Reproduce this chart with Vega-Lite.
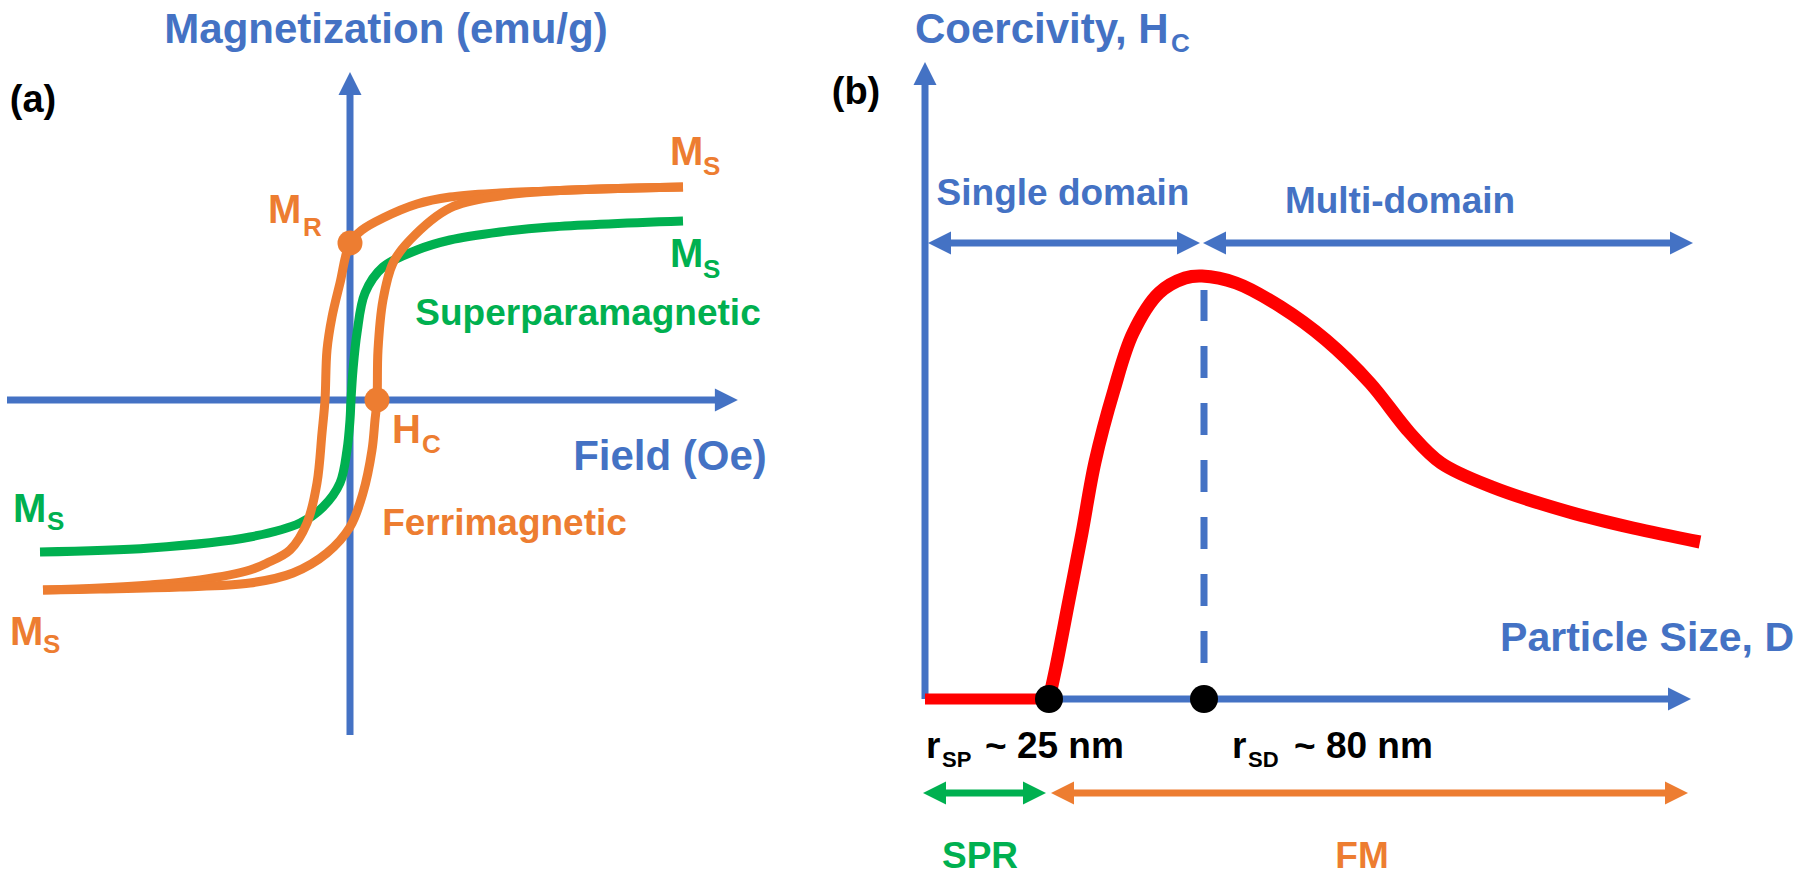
{
  "$schema": "https://vega.github.io/schema/vega-lite/v6.json",
  "padding": 0,
  "spacing": 0,
  "background": "white",
  "config": {
    "view": {"stroke": null},
    "text": {"font": "Liberation Sans", "fontWeight": "bold", "baseline": "alphabetic"}
  },
  "datasets": {
    "loop": [
      {"curve": "ferri-desc", "pal": "orange", "i": 0, "H": 832.5, "M": 1.065},
      {"curve": "ferri-desc", "pal": "orange", "i": 1, "H": 625, "M": 1.055},
      {"curve": "ferri-desc", "pal": "orange", "i": 2, "H": 500, "M": 1.045},
      {"curve": "ferri-desc", "pal": "orange", "i": 3, "H": 375, "M": 1.035},
      {"curve": "ferri-desc", "pal": "orange", "i": 4, "H": 250, "M": 1.015},
      {"curve": "ferri-desc", "pal": "orange", "i": 5, "H": 167.5, "M": 0.98},
      {"curve": "ferri-desc", "pal": "orange", "i": 6, "H": 82.5, "M": 0.91},
      {"curve": "ferri-desc", "pal": "orange", "i": 7, "H": 30, "M": 0.85},
      {"curve": "ferri-desc", "pal": "orange", "i": 8, "H": 0, "M": 0.785},
      {"curve": "ferri-desc", "pal": "orange", "i": 9, "H": -25, "M": 0.585},
      {"curve": "ferri-desc", "pal": "orange", "i": 10, "H": -45, "M": 0.415},
      {"curve": "ferri-desc", "pal": "orange", "i": 11, "H": -57.5, "M": 0.25},
      {"curve": "ferri-desc", "pal": "orange", "i": 12, "H": -62.5, "M": 0},
      {"curve": "ferri-desc", "pal": "orange", "i": 13, "H": -70, "M": -0.165},
      {"curve": "ferri-desc", "pal": "orange", "i": 14, "H": -82.5, "M": -0.415},
      {"curve": "ferri-desc", "pal": "orange", "i": 15, "H": -107.5, "M": -0.615},
      {"curve": "ferri-desc", "pal": "orange", "i": 16, "H": -150, "M": -0.75},
      {"curve": "ferri-desc", "pal": "orange", "i": 17, "H": -207.5, "M": -0.815},
      {"curve": "ferri-desc", "pal": "orange", "i": 18, "H": -250, "M": -0.85},
      {"curve": "ferri-desc", "pal": "orange", "i": 19, "H": -375, "M": -0.9},
      {"curve": "ferri-desc", "pal": "orange", "i": 20, "H": -500, "M": -0.925},
      {"curve": "ferri-desc", "pal": "orange", "i": 21, "H": -625, "M": -0.94},
      {"curve": "ferri-desc", "pal": "orange", "i": 22, "H": -767.5, "M": -0.95},
      {"curve": "ferri-asc", "pal": "orange", "i": 0, "H": -767.5, "M": -0.95},
      {"curve": "ferri-asc", "pal": "orange", "i": 1, "H": -625, "M": -0.945},
      {"curve": "ferri-asc", "pal": "orange", "i": 2, "H": -425, "M": -0.935},
      {"curve": "ferri-asc", "pal": "orange", "i": 3, "H": -250, "M": -0.915},
      {"curve": "ferri-asc", "pal": "orange", "i": 4, "H": -142.5, "M": -0.865},
      {"curve": "ferri-asc", "pal": "orange", "i": 5, "H": -57.5, "M": -0.765},
      {"curve": "ferri-asc", "pal": "orange", "i": 6, "H": 0, "M": -0.635},
      {"curve": "ferri-asc", "pal": "orange", "i": 7, "H": 32.5, "M": -0.465},
      {"curve": "ferri-asc", "pal": "orange", "i": 8, "H": 55, "M": -0.25},
      {"curve": "ferri-asc", "pal": "orange", "i": 9, "H": 62.5, "M": -0.1},
      {"curve": "ferri-asc", "pal": "orange", "i": 10, "H": 67.5, "M": 0},
      {"curve": "ferri-asc", "pal": "orange", "i": 11, "H": 70, "M": 0.25},
      {"curve": "ferri-asc", "pal": "orange", "i": 12, "H": 82.5, "M": 0.5},
      {"curve": "ferri-asc", "pal": "orange", "i": 13, "H": 107.5, "M": 0.685},
      {"curve": "ferri-asc", "pal": "orange", "i": 14, "H": 150, "M": 0.8},
      {"curve": "ferri-asc", "pal": "orange", "i": 15, "H": 250, "M": 0.96},
      {"curve": "ferri-asc", "pal": "orange", "i": 16, "H": 375, "M": 1.02},
      {"curve": "ferri-asc", "pal": "orange", "i": 17, "H": 500, "M": 1.045},
      {"curve": "ferri-asc", "pal": "orange", "i": 18, "H": 832.5, "M": 1.065},
      {"curve": "spm", "pal": "green", "i": 0, "H": -775, "M": -0.76},
      {"curve": "spm", "pal": "green", "i": 1, "H": -500, "M": -0.74},
      {"curve": "spm", "pal": "green", "i": 2, "H": -250, "M": -0.685},
      {"curve": "spm", "pal": "green", "i": 3, "H": -125, "M": -0.615},
      {"curve": "spm", "pal": "green", "i": 4, "H": -67.5, "M": -0.535},
      {"curve": "spm", "pal": "green", "i": 5, "H": -25, "M": -0.415},
      {"curve": "spm", "pal": "green", "i": 6, "H": -7.5, "M": -0.25},
      {"curve": "spm", "pal": "green", "i": 7, "H": 0, "M": -0.1},
      {"curve": "spm", "pal": "green", "i": 8, "H": 2.5, "M": 0},
      {"curve": "spm", "pal": "green", "i": 9, "H": 7.5, "M": 0.15},
      {"curve": "spm", "pal": "green", "i": 10, "H": 17.5, "M": 0.335},
      {"curve": "spm", "pal": "green", "i": 11, "H": 37.5, "M": 0.535},
      {"curve": "spm", "pal": "green", "i": 12, "H": 82.5, "M": 0.665},
      {"curve": "spm", "pal": "green", "i": 13, "H": 167.5, "M": 0.75},
      {"curve": "spm", "pal": "green", "i": 14, "H": 250, "M": 0.8},
      {"curve": "spm", "pal": "green", "i": 15, "H": 375, "M": 0.84},
      {"curve": "spm", "pal": "green", "i": 16, "H": 500, "M": 0.865},
      {"curve": "spm", "pal": "green", "i": 17, "H": 832.5, "M": 0.895}
    ],
    "axesA": [
      {"H": 0, "M": -1.675, "H2": 0, "M2": 1.56, "pal": "blue"},
      {"H": -857.5, "M": 0, "H2": 935, "M2": 0, "pal": "blue"}
    ],
    "headsA": [
      {"H": 0, "M": 1.5825, "dir": "up", "pal": "blue"},
      {"H": 941, "M": 0, "dir": "right", "pal": "blue"}
    ],
    "dotsA": [
      {"H": 0, "M": 0.785, "point": "M_R", "pal": "orange"},
      {"H": 67.5, "M": 0, "point": "H_C", "pal": "orange"}
    ],
    "textA": [
      {"H": 90, "M": 1.785, "t": "Magnetization (emu/g)", "role": "title", "pal": "blue"},
      {"H": 800, "M": -0.35, "t": "Field (Oe)", "role": "title", "pal": "blue"},
      {"H": -792.5, "M": 1.44, "t": "(a)", "role": "panel", "pal": "black"},
      {"H": 595, "M": 0.375, "t": "Superparamagnetic", "role": "curve-label", "pal": "green"},
      {"H": 386.25, "M": -0.675, "t": "Ferrimagnetic", "role": "curve-label", "pal": "orange"},
      {"H": 800, "M": 1.175, "t": "M", "role": "symbol", "pal": "orange"},
      {"H": 882.5, "M": 1.125, "t": "S", "role": "subscript", "pal": "orange"},
      {"H": 800, "M": 0.665, "t": "M", "role": "symbol", "pal": "green"},
      {"H": 882.5, "M": 0.61, "t": "S", "role": "subscript", "pal": "green"},
      {"H": -205, "M": 0.885, "t": "M", "role": "symbol", "pal": "orange"},
      {"H": -117.5, "M": 0.82, "t": "R", "role": "subscript", "pal": "orange"},
      {"H": 105, "M": -0.215, "t": "H", "role": "symbol", "pal": "orange"},
      {"H": 180, "M": -0.265, "t": "C", "role": "subscript", "pal": "orange"},
      {"H": -842.5, "M": -0.61, "t": "M", "role": "symbol", "pal": "green"},
      {"H": -757.5, "M": -0.65, "t": "S", "role": "subscript", "pal": "green"},
      {"H": -850, "M": -1.225, "t": "M", "role": "symbol", "pal": "orange"},
      {"H": -767.5, "M": -1.265, "t": "S", "role": "subscript", "pal": "orange"}
    ],
    "curveB": [
      {"i": 0, "D": 24.8, "Hc": 0},
      {"i": 1, "D": 26.2, "Hc": 8},
      {"i": 2, "D": 28.8, "Hc": 24.75},
      {"i": 3, "D": 31.4, "Hc": 41.5},
      {"i": 4, "D": 34, "Hc": 59.25},
      {"i": 5, "D": 37.8, "Hc": 77.25},
      {"i": 6, "D": 41.6, "Hc": 91.5},
      {"i": 7, "D": 46.8, "Hc": 101.5},
      {"i": 8, "D": 52, "Hc": 105.25},
      {"i": 9, "D": 55.4, "Hc": 105.75},
      {"i": 10, "D": 62.2, "Hc": 104},
      {"i": 11, "D": 71.2, "Hc": 98},
      {"i": 12, "D": 80.2, "Hc": 89.75},
      {"i": 13, "D": 89, "Hc": 79},
      {"i": 14, "D": 97, "Hc": 66.5},
      {"i": 15, "D": 103.2, "Hc": 59},
      {"i": 16, "D": 113.4, "Hc": 53},
      {"i": 17, "D": 128.8, "Hc": 46.75},
      {"i": 18, "D": 141.6, "Hc": 42.75},
      {"i": 19, "D": 155, "Hc": 39.25}
    ],
    "rulesB": [
      {"D": 0, "Hc": 0, "D2": 0, "Hc2": 156, "pal": "blue", "role": "axis"},
      {"D": 0, "Hc": 0, "D2": 151, "Hc2": 0, "pal": "blue", "role": "axis"},
      {"D": 2.9, "Hc": 114, "D2": 52.7, "Hc2": 114, "pal": "blue", "role": "range"},
      {"D": 57.9, "Hc": 114, "D2": 151.3, "Hc2": 114, "pal": "blue", "role": "range"},
      {"D": 1.9, "Hc": -23.5, "D2": 21.9, "Hc2": -23.5, "pal": "green", "role": "range"},
      {"D": 27.5, "Hc": -23.5, "D2": 150.3, "Hc2": -23.5, "pal": "orange", "role": "range"},
      {"D": 0, "Hc": 0, "D2": 24.8, "Hc2": 0, "pal": "red", "role": "flat"},
      {"D": 55.8, "Hc": 9, "D2": 55.8, "Hc2": 102.25, "pal": "blue", "role": "r_SD"}
    ],
    "headsB": [
      {"D": 0, "Hc": 156.4, "dir": "up", "pal": "blue"},
      {"D": 150.9, "Hc": 0, "dir": "right", "pal": "blue"},
      {"D": 2.9, "Hc": 114, "dir": "left", "pal": "blue"},
      {"D": 52.7, "Hc": 114, "dir": "right", "pal": "blue"},
      {"D": 57.9, "Hc": 114, "dir": "left", "pal": "blue"},
      {"D": 151.3, "Hc": 114, "dir": "right", "pal": "blue"},
      {"D": 1.9, "Hc": -23.5, "dir": "left", "pal": "green"},
      {"D": 21.9, "Hc": -23.5, "dir": "right", "pal": "green"},
      {"D": 27.5, "Hc": -23.5, "dir": "left", "pal": "orange"},
      {"D": 150.3, "Hc": -23.5, "dir": "right", "pal": "orange"}
    ],
    "dotsB": [
      {"D": 24.8, "Hc": 0, "point": "r_SP"},
      {"D": 55.8, "Hc": 0, "point": "r_SD"}
    ],
    "textB": [
      {"D": -2, "Hc": 164, "t": "Coercivity, H", "role": "y-title", "pal": "blue"},
      {"D": 49.2, "Hc": 161.75, "t": "C", "role": "subscript", "pal": "blue"},
      {"D": 173.8, "Hc": 12, "t": "Particle Size, D", "role": "x-title", "pal": "blue"},
      {"D": -13.8, "Hc": 148.75, "t": "(b)", "role": "panel", "pal": "black"},
      {"D": 27.6, "Hc": 123.5, "t": "Single domain", "role": "region", "pal": "blue"},
      {"D": 95, "Hc": 121.5, "t": "Multi-domain", "role": "region", "pal": "blue"},
      {"D": 11, "Hc": -42.25, "t": "SPR", "role": "region", "pal": "green"},
      {"D": 87.4, "Hc": -42.25, "t": "FM", "role": "region", "pal": "orange"},
      {"D": 0.2, "Hc": -14.75, "t": "r", "role": "size", "pal": "black"},
      {"D": 3.4, "Hc": -17, "t": "SP", "role": "size-sub", "pal": "black"},
      {"D": 12, "Hc": -14.75, "t": "~ 25 nm", "role": "size", "pal": "black"},
      {"D": 61.4, "Hc": -14.75, "t": "r", "role": "size", "pal": "black"},
      {"D": 64.6, "Hc": -17, "t": "SD", "role": "size-sub", "pal": "black"},
      {"D": 73.8, "Hc": -14.75, "t": "~ 80 nm", "role": "size", "pal": "black"}
    ]
  },
  "hconcat": [
    {
      "width": 800,
      "height": 877,
      "encoding": {
        "x": {"field": "H", "type": "quantitative", "scale": {"domain": [-875, 1125], "nice": false, "zero": false}, "axis": null},
        "y": {"field": "M", "type": "quantitative", "scale": {"domain": [-2.385, 2.0], "nice": false, "zero": false}, "axis": null}
      },
      "layer": [
        {
          "data": {"name": "axesA"},
          "mark": {"type": "rule", "strokeWidth": 7, "strokeCap": "butt"},
          "encoding": {
            "x2": {"field": "H2"},
            "y2": {"field": "M2"},
            "color": {"field": "pal", "type": "nominal", "scale": {"domain": ["blue", "orange", "green", "red", "black"], "range": ["#4472C4", "#ED7D31", "#00B050", "#FF0000", "#000000"]}, "legend": null}
          }
        },
        {
          "data": {"name": "headsA"},
          "mark": {"type": "point", "filled": true, "opacity": 1, "size": 529, "strokeWidth": 0},
          "encoding": {
            "shape": {"field": "dir", "type": "nominal", "scale": {"domain": ["up", "right", "left"], "range": ["M0,-1L1,1L-1,1Z", "M1,0L-1,-1L-1,1Z", "M-1,0L1,-1L1,1Z"]}, "legend": null},
            "color": {"field": "pal", "type": "nominal", "scale": {"domain": ["blue", "orange", "green", "red", "black"], "range": ["#4472C4", "#ED7D31", "#00B050", "#FF0000", "#000000"]}, "legend": null}
          }
        },
        {
          "data": {"name": "loop"},
          "transform": [{"filter": "datum.curve === 'spm'"}],
          "mark": {"type": "line", "strokeWidth": 9, "interpolate": "catmull-rom", "strokeCap": "butt"},
          "encoding": {
            "order": {"field": "i", "type": "quantitative"},
            "detail": {"field": "curve"},
            "color": {"field": "pal", "type": "nominal", "scale": {"domain": ["blue", "orange", "green", "red", "black"], "range": ["#4472C4", "#ED7D31", "#00B050", "#FF0000", "#000000"]}, "legend": null}
          }
        },
        {
          "data": {"name": "loop"},
          "transform": [{"filter": "datum.curve !== 'spm'"}],
          "mark": {"type": "line", "strokeWidth": 9, "interpolate": "catmull-rom", "strokeCap": "butt"},
          "encoding": {
            "order": {"field": "i", "type": "quantitative"},
            "detail": {"field": "curve"},
            "color": {"field": "pal", "type": "nominal", "scale": {"domain": ["blue", "orange", "green", "red", "black"], "range": ["#4472C4", "#ED7D31", "#00B050", "#FF0000", "#000000"]}, "legend": null}
          }
        },
        {
          "data": {"name": "dotsA"},
          "mark": {"type": "circle", "size": 625, "opacity": 1},
          "encoding": {
            "color": {"field": "pal", "type": "nominal", "scale": {"domain": ["blue", "orange", "green", "red", "black"], "range": ["#4472C4", "#ED7D31", "#00B050", "#FF0000", "#000000"]}, "legend": null}
          }
        },
        {
          "data": {"name": "textA"},
          "transform": [{"filter": "datum.role === 'title'"}],
          "mark": {"type": "text", "fontSize": 42, "align": "center"},
          "encoding": {
            "text": {"field": "t"},
            "color": {"field": "pal", "type": "nominal", "scale": {"domain": ["blue", "orange", "green", "red", "black"], "range": ["#4472C4", "#ED7D31", "#00B050", "#FF0000", "#000000"]}, "legend": null}
          }
        },
        {
          "data": {"name": "textA"},
          "transform": [{"filter": "datum.role === 'panel'"}],
          "mark": {"type": "text", "fontSize": 38, "align": "center"},
          "encoding": {
            "text": {"field": "t"},
            "color": {"field": "pal", "type": "nominal", "scale": {"domain": ["blue", "orange", "green", "red", "black"], "range": ["#4472C4", "#ED7D31", "#00B050", "#FF0000", "#000000"]}, "legend": null}
          }
        },
        {
          "data": {"name": "textA"},
          "transform": [{"filter": "datum.role === 'curve-label'"}],
          "mark": {"type": "text", "fontSize": 37, "align": "center"},
          "encoding": {
            "text": {"field": "t"},
            "color": {"field": "pal", "type": "nominal", "scale": {"domain": ["blue", "orange", "green", "red", "black"], "range": ["#4472C4", "#ED7D31", "#00B050", "#FF0000", "#000000"]}, "legend": null}
          }
        },
        {
          "data": {"name": "textA"},
          "transform": [{"filter": "datum.role === 'symbol'"}],
          "mark": {"type": "text", "fontSize": 40, "align": "left"},
          "encoding": {
            "text": {"field": "t"},
            "color": {"field": "pal", "type": "nominal", "scale": {"domain": ["blue", "orange", "green", "red", "black"], "range": ["#4472C4", "#ED7D31", "#00B050", "#FF0000", "#000000"]}, "legend": null}
          }
        },
        {
          "data": {"name": "textA"},
          "transform": [{"filter": "datum.role === 'subscript'"}],
          "mark": {"type": "text", "fontSize": 26, "align": "left"},
          "encoding": {
            "text": {"field": "t"},
            "color": {"field": "pal", "type": "nominal", "scale": {"domain": ["blue", "orange", "green", "red", "black"], "range": ["#4472C4", "#ED7D31", "#00B050", "#FF0000", "#000000"]}, "legend": null}
          }
        }
      ]
    },
    {
      "width": 1000,
      "height": 877,
      "encoding": {
        "x": {"field": "D", "type": "quantitative", "scale": {"domain": [-25, 175], "nice": false, "zero": false}, "axis": null},
        "y": {"field": "Hc", "type": "quantitative", "scale": {"domain": [-44.5, 174.75], "nice": false, "zero": false}, "axis": null}
      },
      "layer": [
        {
          "data": {"name": "rulesB"},
          "transform": [{"filter": "datum.role === 'axis' || datum.role === 'range'"}],
          "mark": {"type": "rule", "strokeWidth": 7, "strokeCap": "butt"},
          "encoding": {
            "x2": {"field": "D2"},
            "y2": {"field": "Hc2"},
            "color": {"field": "pal", "type": "nominal", "scale": {"domain": ["blue", "orange", "green", "red", "black"], "range": ["#4472C4", "#ED7D31", "#00B050", "#FF0000", "#000000"]}, "legend": null}
          }
        },
        {
          "data": {"name": "rulesB"},
          "transform": [{"filter": "datum.role === 'r_SD'"}],
          "mark": {"type": "rule", "strokeWidth": 7, "strokeCap": "butt", "strokeDash": [32, 25]},
          "encoding": {
            "x2": {"field": "D2"},
            "y2": {"field": "Hc2"},
            "color": {"field": "pal", "type": "nominal", "scale": {"domain": ["blue", "orange", "green", "red", "black"], "range": ["#4472C4", "#ED7D31", "#00B050", "#FF0000", "#000000"]}, "legend": null}
          }
        },
        {
          "data": {"name": "headsB"},
          "mark": {"type": "point", "filled": true, "opacity": 1, "size": 529, "strokeWidth": 0},
          "encoding": {
            "shape": {"field": "dir", "type": "nominal", "scale": {"domain": ["up", "right", "left"], "range": ["M0,-1L1,1L-1,1Z", "M1,0L-1,-1L-1,1Z", "M-1,0L1,-1L1,1Z"]}, "legend": null},
            "color": {"field": "pal", "type": "nominal", "scale": {"domain": ["blue", "orange", "green", "red", "black"], "range": ["#4472C4", "#ED7D31", "#00B050", "#FF0000", "#000000"]}, "legend": null}
          }
        },
        {
          "data": {"name": "rulesB"},
          "transform": [{"filter": "datum.role === 'flat'"}],
          "mark": {"type": "rule", "strokeWidth": 11, "strokeCap": "butt"},
          "encoding": {
            "x2": {"field": "D2"},
            "y2": {"field": "Hc2"},
            "color": {"field": "pal", "type": "nominal", "scale": {"domain": ["blue", "orange", "green", "red", "black"], "range": ["#4472C4", "#ED7D31", "#00B050", "#FF0000", "#000000"]}, "legend": null}
          }
        },
        {
          "data": {"name": "curveB"},
          "mark": {"type": "line", "strokeWidth": 13, "color": "#FF0000", "interpolate": "catmull-rom", "strokeCap": "butt"},
          "encoding": {
            "order": {"field": "i", "type": "quantitative"}
          }
        },
        {
          "data": {"name": "dotsB"},
          "mark": {"type": "circle", "size": 784, "opacity": 1, "color": "#000000"},
          "encoding": {}
        },
        {
          "data": {"name": "textB"},
          "transform": [{"filter": "datum.role === 'y-title'"}],
          "mark": {"type": "text", "fontSize": 42, "align": "left"},
          "encoding": {
            "text": {"field": "t"},
            "color": {"field": "pal", "type": "nominal", "scale": {"domain": ["blue", "orange", "green", "red", "black"], "range": ["#4472C4", "#ED7D31", "#00B050", "#FF0000", "#000000"]}, "legend": null}
          }
        },
        {
          "data": {"name": "textB"},
          "transform": [{"filter": "datum.role === 'x-title'"}],
          "mark": {"type": "text", "fontSize": 41, "align": "right"},
          "encoding": {
            "text": {"field": "t"},
            "color": {"field": "pal", "type": "nominal", "scale": {"domain": ["blue", "orange", "green", "red", "black"], "range": ["#4472C4", "#ED7D31", "#00B050", "#FF0000", "#000000"]}, "legend": null}
          }
        },
        {
          "data": {"name": "textB"},
          "transform": [{"filter": "datum.role === 'panel'"}],
          "mark": {"type": "text", "fontSize": 38, "align": "center"},
          "encoding": {
            "text": {"field": "t"},
            "color": {"field": "pal", "type": "nominal", "scale": {"domain": ["blue", "orange", "green", "red", "black"], "range": ["#4472C4", "#ED7D31", "#00B050", "#FF0000", "#000000"]}, "legend": null}
          }
        },
        {
          "data": {"name": "textB"},
          "transform": [{"filter": "datum.role === 'region'"}],
          "mark": {"type": "text", "fontSize": 37, "align": "center"},
          "encoding": {
            "text": {"field": "t"},
            "color": {"field": "pal", "type": "nominal", "scale": {"domain": ["blue", "orange", "green", "red", "black"], "range": ["#4472C4", "#ED7D31", "#00B050", "#FF0000", "#000000"]}, "legend": null}
          }
        },
        {
          "data": {"name": "textB"},
          "transform": [{"filter": "datum.role === 'size'"}],
          "mark": {"type": "text", "fontSize": 37, "align": "left"},
          "encoding": {
            "text": {"field": "t"},
            "color": {"field": "pal", "type": "nominal", "scale": {"domain": ["blue", "orange", "green", "red", "black"], "range": ["#4472C4", "#ED7D31", "#00B050", "#FF0000", "#000000"]}, "legend": null}
          }
        },
        {
          "data": {"name": "textB"},
          "transform": [{"filter": "datum.role === 'size-sub'"}],
          "mark": {"type": "text", "fontSize": 22, "align": "left"},
          "encoding": {
            "text": {"field": "t"},
            "color": {"field": "pal", "type": "nominal", "scale": {"domain": ["blue", "orange", "green", "red", "black"], "range": ["#4472C4", "#ED7D31", "#00B050", "#FF0000", "#000000"]}, "legend": null}
          }
        },
        {
          "data": {"name": "textB"},
          "transform": [{"filter": "datum.role === 'subscript'"}],
          "mark": {"type": "text", "fontSize": 26, "align": "left"},
          "encoding": {
            "text": {"field": "t"},
            "color": {"field": "pal", "type": "nominal", "scale": {"domain": ["blue", "orange", "green", "red", "black"], "range": ["#4472C4", "#ED7D31", "#00B050", "#FF0000", "#000000"]}, "legend": null}
          }
        }
      ]
    }
  ]
}
